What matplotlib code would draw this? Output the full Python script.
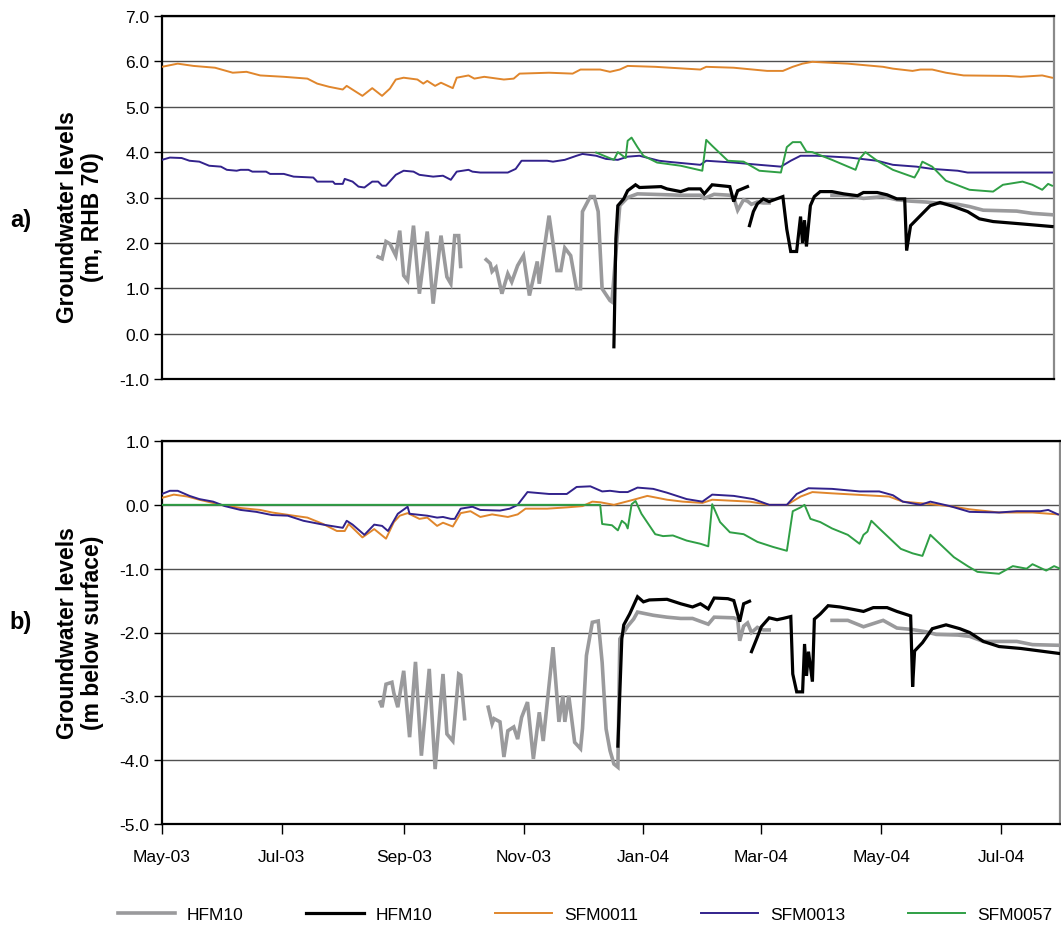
import numpy as np
import matplotlib
matplotlib.use("Agg")
import matplotlib.pyplot as plt
import matplotlib.dates as mdates

plt.rcParams['font.family'] = ['Liberation Sans', 'DejaVu Sans']

START = np.datetime64('2003-05-01')
nan = np.nan

# ---------------- a) levels in m, RHB 70 ----------------
a_hfm10_grey_days = [110, 112, 114, 116, 119, 121, 123, 125, 128, 131, 135, 138, 142, 145, 147, 149, 151, 152, 158,
                     165, 167, 168, 170, 173, 176, 178, 181, 184, 187, 191, 192, 197, 201, 203, 205, 208, 211, 213, 214,
                     218, 220, 222, 224, 228, 229, 233, 237, 242, 250, 264, 274, 276, 281, 289, 291, 293, 296, 298, 300,
                     303, 306, 309, 325, 341, 349, 357, 362, 367, 374, 381, 389, 394, 405, 411, 418, 435, 443, 453]
a_hfm10_grey = [1.69, 1.65, 2.03, 1.98, 1.72, 2.27, 1.28, 1.17, 2.38, 0.88, 2.25, 0.66, 2.16, 1.25, 1.10, 2.16, 2.16, 1.48, nan,
                1.63, 1.55, 1.37, 1.46, 0.88, 1.32, 1.14, 1.50, 1.72, 0.84, 1.59, 1.10, 2.60, 1.39, 1.39, 1.89, 1.72, 0.99, 0.99, 2.69,
                3.02, 3.02, 2.69, 0.99, 0.73, 0.70, 2.82, 3.00, 3.08, 3.07, 3.05, 3.05, 2.98, 3.07, 3.05, 3.00, 2.72, 2.95, 2.92, 2.85,
                2.90, 2.88, 2.88, nan, 3.05, 3.05, 2.98, 3.00, 3.02, 2.95, 2.92, 2.90, 2.88, 2.85, 2.80, 2.72, 2.70, 2.65, 2.62]

a_hfm10_black_days = [230, 231, 232, 235, 237, 241, 243, 254, 257, 264, 268, 274, 276, 280, 289, 291, 293, 298, 298,
                      299, 301, 303, 306, 309, 316, 318, 320, 323, 325, 326, 327, 328, 330, 332, 335, 341, 347, 354, 357,
                      364, 369, 374, 378, 379, 381, 386, 391, 396, 403, 410, 416, 423, 437, 453]
a_hfm10_black = [-0.29, 2.09, 2.82, 2.97, 3.15, 3.28, 3.22, 3.24, 3.19, 3.13, 3.19, 3.19, 3.08, 3.28, 3.24, 2.91, 3.15, 3.24, nan,
                 2.38, 2.69, 2.86, 2.97, 2.91, 3.02, 2.30, 1.81, 1.81, 2.58, 2.00, 2.50, 1.92, 2.82, 3.02, 3.13, 3.13, 3.08, 3.04, 3.11,
                 3.11, 3.06, 2.97, 2.97, 1.83, 2.38, 2.60, 2.82, 2.89, 2.80, 2.69, 2.53, 2.47, 2.42, 2.36]

a_sfm0011_days = [0, 8, 16, 27, 36, 43, 50, 62, 74, 79, 85, 92, 94, 102, 107, 112, 116, 119, 123, 130, 133, 135, 139, 142,
                  148, 150, 156, 159, 164, 174, 179, 182, 197, 209, 213, 223, 228, 233, 237, 251, 274, 277, 291, 308, 316,
                  321, 326, 331, 349, 367, 372, 382, 386, 392, 399, 408, 430, 437, 448, 453]
a_sfm0011 = [5.88, 5.95, 5.90, 5.86, 5.75, 5.77, 5.69, 5.66, 5.62, 5.51, 5.44, 5.38, 5.46, 5.24, 5.41, 5.24, 5.40, 5.60, 5.64,
             5.60, 5.51, 5.57, 5.46, 5.53, 5.41, 5.64, 5.69, 5.62, 5.66, 5.60, 5.62, 5.73, 5.75, 5.73, 5.82, 5.82, 5.77, 5.82,
             5.90, 5.88, 5.82, 5.88, 5.86, 5.79, 5.79, 5.88, 5.95, 5.99, 5.95, 5.88, 5.84, 5.79, 5.82, 5.82, 5.75, 5.69, 5.68,
             5.66, 5.69, 5.64]

a_sfm0013_days = [0, 4, 10, 14, 19, 24, 30, 33, 38, 40, 44, 46, 53, 55, 62, 67, 77, 79, 87, 88, 92, 93, 97, 100, 103, 107,
                  110, 112, 114, 119, 123, 128, 131, 138, 143, 147, 150, 156, 158, 162, 176, 180, 183, 196, 199, 205, 211,
                  214, 221, 226, 232, 237, 243, 253, 257, 274, 277, 291, 304, 315, 320, 325, 333, 350, 364, 372, 384, 392,
                  405, 410, 426, 453]
a_sfm0013 = [3.83, 3.88, 3.87, 3.81, 3.79, 3.70, 3.68, 3.61, 3.59, 3.61, 3.61, 3.57, 3.57, 3.52, 3.52, 3.46, 3.44, 3.35, 3.35,
             3.30, 3.30, 3.41, 3.35, 3.24, 3.22, 3.35, 3.35, 3.26, 3.26, 3.50, 3.59, 3.57, 3.50, 3.46, 3.48, 3.39, 3.57, 3.61,
             3.57, 3.55, 3.55, 3.63, 3.81, 3.81, 3.79, 3.83, 3.92, 3.96, 3.92, 3.85, 3.83, 3.90, 3.92, 3.81, 3.79, 3.72, 3.81,
             3.77, 3.72, 3.68, 3.81, 3.92, 3.92, 3.88, 3.81, 3.72, 3.68, 3.63, 3.59, 3.55, 3.55, 3.55]

a_sfm0057_days = [221, 230, 232, 236, 237, 239, 242, 245, 252, 264, 275, 277, 280, 288, 296, 304, 315, 318, 321, 325, 328,
                  331, 341, 353, 355, 358, 364, 372, 383, 385, 387, 392, 399, 411, 423, 428, 438, 443, 448, 451, 453]
a_sfm0057 = [3.99, 3.83, 4.00, 3.87, 4.25, 4.32, 4.11, 3.92, 3.77, 3.70, 3.59, 4.27, 4.14, 3.81, 3.79, 3.59, 3.55, 4.11, 4.22,
             4.22, 4.01, 4.00, 3.83, 3.61, 3.85, 4.00, 3.81, 3.61, 3.44, 3.59, 3.79, 3.68, 3.37, 3.17, 3.13, 3.28, 3.35, 3.28,
             3.17, 3.30, 3.26]

# ---------------- b) levels in m below surface ----------------
b_hfm10_grey_days = [111, 112, 114, 117, 118, 120, 123, 126, 129, 132, 136, 139, 143, 145, 148, 151, 152, 154, 160,
                     166, 168, 169, 172, 174, 176, 179, 181, 183, 186, 189, 192, 194, 199, 202, 204, 205, 207, 210, 213,
                     214, 216, 219, 222, 224, 226, 228, 230, 232, 233, 237, 240, 242, 250, 257, 264, 270, 278, 281, 291,
                     293, 294, 296, 298, 300, 303, 306, 309, 325, 341, 349, 357, 362, 367, 374, 381, 389, 394, 405, 411,
                     418, 435, 443, 456]
b_hfm10_grey = [-3.09, -3.17, -2.81, -2.78, -2.95, -3.17, -2.60, -3.64, -2.46, -3.93, -2.57, -4.14, -2.65, -3.59, -3.70, -2.65,
                -2.67, -3.35, nan,
                -3.17, -3.43, -3.35, -3.40, -3.95, -3.54, -3.48, -3.67, -3.33, -3.09, -3.98, -3.25, -3.70, -2.23, -3.40, -2.99,
                -3.40, -2.99, -3.72, -3.82, -3.50, -2.36, -1.84, -1.82, -2.47, -3.51, -3.85, -4.06, -4.11, -2.10, -1.90, -1.79,
                -1.68, -1.73, -1.76, -1.78, -1.78, -1.87, -1.76, -1.77, -1.80, -2.13, -1.90, -1.85, -2.00, -1.92, -1.96, -1.96,
                nan, -1.81, -1.81, -1.91, -1.86, -1.81, -1.93, -1.95, -1.99, -2.03, -2.04, -2.06, -2.14, -2.14, -2.19, -2.20]

b_hfm10_black_days = [232, 234, 235, 238, 242, 245, 248, 257, 264, 270, 274, 278, 281, 288, 291, 294, 296, 299, 299,
                      300, 303, 305, 309, 313, 316, 320, 321, 323, 326, 327, 328, 329, 331, 332, 335, 339, 345, 352, 357,
                      362, 369, 374, 381, 382, 383, 387, 392, 399, 406, 411, 418, 426, 437, 447, 457]
b_hfm10_black = [-3.78, -2.10, -1.88, -1.71, -1.44, -1.52, -1.49, -1.48, -1.55, -1.60, -1.55, -1.63, -1.46, -1.47, -1.50, -1.83,
                 -1.55, -1.51, nan,
                 -2.30, -2.07, -1.91, -1.77, -1.80, -1.78, -1.75, -2.65, -2.93, -2.93, -2.18, -2.68, -2.30, -2.77, -1.79, -1.71,
                 -1.58, -1.60, -1.64, -1.67, -1.61, -1.61, -1.67, -1.74, -2.85, -2.29, -2.16, -1.94, -1.88, -1.94, -2.00, -2.14,
                 -2.22, -2.25, -2.29, -2.33]

b_sfm0011_days = [0, 6, 13, 19, 30, 40, 50, 56, 67, 74, 82, 89, 93, 95, 102, 108, 114, 118, 121, 125, 131, 135, 140, 143,
                  148, 152, 157, 162, 168, 176, 181, 185, 196, 206, 214, 219, 223, 230, 240, 247, 257, 265, 275, 280, 299,
                  309, 318, 325, 331, 341, 370, 377, 392, 403, 411, 426, 443, 456]
b_sfm0011 = [0.11, 0.16, 0.13, 0.08, 0.00, -0.05, -0.08, -0.12, -0.17, -0.20, -0.30, -0.41, -0.41, -0.30, -0.51, -0.38, -0.53,
             -0.27, -0.17, -0.13, -0.22, -0.20, -0.33, -0.28, -0.34, -0.13, -0.10, -0.19, -0.15, -0.19, -0.15, -0.06, -0.06,
             -0.04, -0.02, 0.05, 0.04, 0.00, 0.08, 0.14, 0.08, 0.05, 0.03, 0.08, 0.05, 0.00, 0.00, 0.13, 0.20, 0.18, 0.13,
             0.05, 0.01, -0.03, -0.07, -0.12, -0.12, -0.15]

b_sfm0013_days = [0, 4, 8, 14, 19, 26, 32, 40, 48, 56, 64, 72, 82, 92, 94, 97, 103, 108, 112, 115, 120, 125, 126, 135, 140,
                  143, 147, 149, 152, 158, 162, 172, 177, 181, 186, 197, 206, 211, 218, 224, 228, 233, 237, 242, 250, 257,
                  267, 275, 280, 291, 301, 309, 318, 323, 329, 341, 355, 365, 372, 377, 386, 391, 401, 411, 426, 435, 447,
                  451, 456]
b_sfm0013 = [0.17, 0.22, 0.22, 0.14, 0.09, 0.05, -0.02, -0.08, -0.11, -0.16, -0.17, -0.25, -0.31, -0.36, -0.25, -0.31, -0.47,
             -0.31, -0.33, -0.41, -0.14, -0.03, -0.14, -0.17, -0.20, -0.19, -0.22, -0.22, -0.06, -0.03, -0.08, -0.09, -0.06,
             0.00, 0.20, 0.17, 0.17, 0.28, 0.29, 0.21, 0.22, 0.20, 0.20, 0.27, 0.25, 0.19, 0.09, 0.05, 0.16, 0.14, 0.09, 0.00,
             0.00, 0.17, 0.26, 0.25, 0.21, 0.21, 0.15, 0.05, 0.00, 0.05, -0.02, -0.11, -0.12, -0.10, -0.10, -0.08, -0.15]

b_sfm0057_days = [0, 223, 224, 229, 232, 234, 236, 237, 239, 241, 244, 251, 255, 260, 267, 274, 278, 280, 284, 289, 296,
                  303, 311, 318, 321, 325, 327, 330, 335, 341, 349, 355, 357, 359, 361, 365, 376, 382, 387, 391, 403, 410,
                  415, 426, 433, 440, 443, 450, 454, 457]
b_sfm0057 = [0.00, 0.00, -0.30, -0.32, -0.40, -0.25, -0.30, -0.37, 0.01, 0.06, -0.14, -0.46, -0.49, -0.48, -0.56, -0.61,
             -0.65, 0.01, -0.27, -0.43, -0.46, -0.58, -0.66, -0.72, -0.10, -0.04, 0.00, -0.22, -0.27, -0.37, -0.47, -0.61,
             -0.47, -0.42, -0.25, -0.37, -0.69, -0.76, -0.80, -0.47, -0.82, -0.96, -1.05, -1.08, -0.96, -1.00, -0.93, -1.03,
             -0.96, -1.00]

a_yticks = [-1, 0, 1, 2, 3, 4, 5, 6, 7]
b_yticks = [-5, -4, -3, -2, -1, 0, 1]
month_ticks = ['2003-05-01', '2003-07-01', '2003-09-01', '2003-11-01',
               '2004-01-01', '2004-03-01', '2004-05-01', '2004-07-01']

GREY = '#9a9a9c'
BLACK = '#000000'
ORANGE = '#e0862c'
PURPLE = '#32228c'
GREEN = '#2f9f45'


def dates(days):
    return START + np.array(days, dtype='timedelta64[D]')


W, H = 1061, 928
fig = plt.figure(figsize=(W / 100, H / 100), dpi=100)
fig.patch.set_facecolor('white')

ax_a = fig.add_axes([162 / W, 1 - 380 / H, (1054 - 162) / W, (380 - 17) / H])
ax_b = fig.add_axes([162 / W, 1 - 825 / H, (1060 - 162) / W, (825 - 442) / H])


def draw(ax, grey, black, s11, s13, s57):
    ax.plot(dates(grey[0]), grey[1], color=GREY, lw=2.6, solid_joinstyle='miter', zorder=3)
    ax.plot(dates(black[0]), black[1], color=BLACK, lw=2.3, solid_joinstyle='miter', zorder=4)
    ax.plot(dates(s11[0]), s11[1], color=ORANGE, lw=1.4, zorder=5)
    ax.plot(dates(s13[0]), s13[1], color=PURPLE, lw=1.4, zorder=6)
    ax.plot(dates(s57[0]), s57[1], color=GREEN, lw=1.4, zorder=7)


draw(ax_a, (a_hfm10_grey_days, a_hfm10_grey), (a_hfm10_black_days, a_hfm10_black),
     (a_sfm0011_days, a_sfm0011), (a_sfm0013_days, a_sfm0013), (a_sfm0057_days, a_sfm0057))
draw(ax_b, (b_hfm10_grey_days, b_hfm10_grey), (b_hfm10_black_days, b_hfm10_black),
     (b_sfm0011_days, b_sfm0011), (b_sfm0013_days, b_sfm0013), (b_sfm0057_days, b_sfm0057))

ax_a.set_xlim(START, START + np.timedelta64(454, 'D'))
ax_b.set_xlim(START, START + np.timedelta64(457, 'D'))
ax_a.set_ylim(-1, 7)
ax_b.set_ylim(-5, 1)

for ax, yt in ((ax_a, a_yticks), (ax_b, b_yticks)):
    ax.set_yticks(yt)
    ax.set_yticklabels([f'{v:.1f}' for v in yt])
    ax.grid(axis='y', color='#505050', lw=1.0)
    ax.set_axisbelow(True)
    ax.tick_params(axis='y', direction='out', length=6, width=1.0, pad=3, labelsize=12.5)
    for side in ('left', 'top', 'bottom'):
        ax.spines[side].set_linewidth(1.6)
        ax.spines[side].set_color('black')
    ax.spines['right'].set_linewidth(1.6)
    ax.spines['right'].set_color('#8a8a8a')

ax_a.set_xticks([])
ax_b.set_xticks(np.array(month_ticks, dtype='datetime64[D]'))
ax_b.xaxis.set_major_formatter(mdates.DateFormatter('%b-%y'))
ax_b.tick_params(axis='x', direction='out', length=7, width=1.0, pad=11, labelsize=12.5)

label_kw = dict(rotation=90, ha='center', va='center', fontsize=16.5,
                fontweight='bold', linespacing=1.1)
fig.text(80 / W, 1 - 217 / H, 'Groundwater levels\n(m, RHB 70)', **label_kw)
fig.text(80 / W, 1 - 633 / H, 'Groundwater levels\n(m below surface)', **label_kw)
fig.text(21 / W, 1 - 221 / H, 'a)', ha='center', va='center', fontsize=17, fontweight='bold')
fig.text(21 / W, 1 - 623 / H, 'b)', ha='center', va='center', fontsize=17, fontweight='bold')

handles = ax_b.get_lines()
fig.legend(handles, ['HFM10', 'HFM10', 'SFM0011', 'SFM0013', 'SFM0057'],
           loc='center', bbox_to_anchor=(585 / W, 1 - 915 / H), ncol=5, frameon=False,
           fontsize=12.5, handlelength=3.3, handletextpad=0.7, columnspacing=3.6)

fig.savefig('out.png', dpi=100, facecolor='white')
